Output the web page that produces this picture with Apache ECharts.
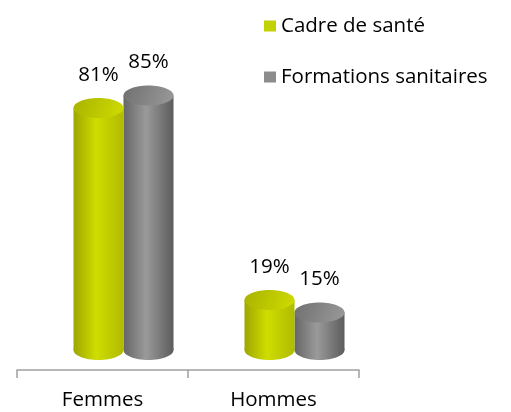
<!DOCTYPE html>
<html>
<head>
<meta charset="utf-8">
<script src="https://cdn.jsdelivr.net/npm/echarts@6/dist/echarts.min.js"></script>
<style>
  html, body { margin: 0; padding: 0; background: #fff; }
  #chart { width: 511px; height: 412px; }
</style>
</head>
<body>
<div id="chart"></div>
<script>
const categories = ['Femmes', 'Hommes']
const cadreSante = [81, 19]
const formations = [85, 15]
const seriesNames = ['Cadre de santé', 'Formations sanitaires']

// colours of the cylinders: left edge, middle, right edge, top
const yellowTones = ['#9ea500', '#cfdd00', '#b0bb00', '#a9b200']
const greyTones = ['#666666', '#9a9a9a', '#5c5c5c', '#707070']

const chart = echarts.init(document.getElementById('chart'))

function cylinder(dx, tones) {
  return function(params, api) {
    const top = api.coord([api.value(0), api.value(1)])
    const base = api.coord([api.value(0), 0])
    const cx = top[0] + dx
    const rx = 25
    const ry = 10
    const topY = top[1] - 11
    const bottomY = base[1] - 20
    const bodyFill = {
      type: 'linear', x: 0, y: 0, x2: 1, y2: 0,
      colorStops: [
        { offset: 0, color: tones[0] },
        { offset: 0.45, color: tones[1] },
        { offset: 1, color: tones[2] }
      ]
    }
    return {
      type: 'group',
      children: [
        { type: 'ellipse', shape: { cx: cx, cy: bottomY, rx: rx, ry: ry }, style: { fill: bodyFill } },
        { type: 'rect', shape: { x: cx - rx, y: topY, width: rx * 2, height: bottomY - topY }, style: { fill: bodyFill } },
        {
          type: 'ellipse',
          shape: { cx: cx, cy: topY, rx: rx, ry: ry },
          style: {
            fill: {
              type: 'linear', x: 0, y: 0, x2: 1, y2: 1,
              colorStops: [
                { offset: 0, color: tones[3] },
                { offset: 1, color: tones[1] }
              ]
            }
          }
        },
        {
          type: 'text',
          style: {
            x: cx, y: topY - 33, text: api.value(1) + '%',
            align: 'center', verticalAlign: 'middle',
            fill: '#000', fontSize: 20.5, fontFamily: 'Open Sans'
          }
        }
      ]
    }
  }
}

chart.setOption({
  animation: false,
  grid: { left: 17, right: 152, top: 60, bottom: 42 },
  legend: {
    orient: 'vertical',
    left: 259,
    top: 10,
    itemWidth: 12,
    itemHeight: 11,
    itemGap: 29,
    icon: 'rect',
    textStyle: { fontSize: 20.5, fontFamily: 'Open Sans', color: '#000', lineHeight: 22 },
    data: [
      { name: seriesNames[0], itemStyle: { color: '#c2d100' } },
      { name: seriesNames[1], itemStyle: { color: '#8c8c8c' } }
    ]
  },
  xAxis: {
    type: 'category',
    data: categories,
    boundaryGap: true,
    axisLine: { lineStyle: { color: '#a0a0a0', width: 1.5 } },
    axisTick: { show: true, length: 8, lineStyle: { color: '#a0a0a0', width: 1.5 } },
    axisLabel: { fontSize: 20.5, fontFamily: 'Open Sans', color: '#000', margin: 20 }
  },
  yAxis: {
    type: 'value',
    min: 0,
    max: 100,
    show: false
  },
  series: [
    {
      name: seriesNames[0],
      type: 'custom',
      z: 3,
      itemStyle: { color: '#c2d100' },
      renderItem: cylinder(-4, yellowTones),
      encode: { x: 0, y: 1 },
      data: categories.map((c, i) => [i, cadreSante[i]])
    },
    {
      name: seriesNames[1],
      type: 'custom',
      z: 2,
      itemStyle: { color: '#8c8c8c' },
      renderItem: cylinder(46, greyTones),
      encode: { x: 0, y: 1 },
      data: categories.map((c, i) => [i, formations[i]])
    }
  ]
})
</script>
</body>
</html>
